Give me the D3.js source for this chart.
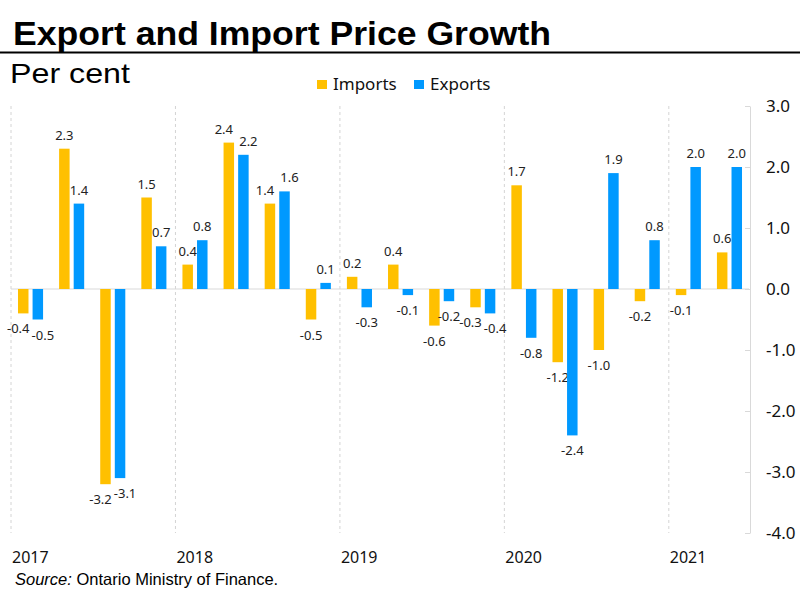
<!DOCTYPE html>
<html>
<head>
<meta charset="utf-8">
<script src="https://cdn.jsdelivr.net/npm/d3@7"></script>
<style>
  body { margin: 0; background: #fff; }
  svg { display: block; }
</style>
</head>
<body>
<div id="chart"></div>
<script>
// quarterly data, 2017Q1 .. 2021Q2
const quarters = ["2017Q1","2017Q2","2017Q3","2017Q4","2018Q1","2018Q2","2018Q3","2018Q4",
  "2019Q1","2019Q2","2019Q3","2019Q4","2020Q1","2020Q2","2020Q3","2020Q4","2021Q1","2021Q2"];
const imports = [-0.4, 2.3, -3.2, 1.5, 0.4, 2.4, 1.4, -0.5, 0.2, 0.4, -0.6, -0.3, 1.7, -1.2, -1.0, -0.2, -0.1, 0.6];
const exports = [-0.5, 1.4, -3.1, 0.7, 0.8, 2.2, 1.6, 0.1, -0.3, -0.1, -0.2, -0.4, -0.8, -2.4, 1.9, 0.8, 2.0, 2.0];
const years = ["2017", "2018", "2019", "2020", "2021"];
const yTicks = [3, 2, 1, 0, -1, -2, -3, -4];

const seriesNames = ["Imports", "Exports"];
const colors = { Imports: "#FFC000", Exports: "#0099FF" };

const width = 800, height = 600;
const plot = { left: 11, right: 749, top: 106, bottom: 533 };
const fmt = d => d.toFixed(1);   // plain hyphen for negatives

const svg = d3.select("#chart").append("svg")
  .attr("width", width)
  .attr("height", height);

// title block
svg.append("text")
  .attr("x", 13).attr("y", 45)
  .attr("textLength", 538)
  .attr("lengthAdjust", "spacingAndGlyphs")
  .style("font-family", "Liberation Sans, Arial, sans-serif")
  .style("font-weight", "bold")
  .style("font-size", "34px")
  .text("Export and Import Price Growth");

svg.append("line")
  .attr("x1", 0).attr("x2", width)
  .attr("y1", 52.5).attr("y2", 52.5)
  .attr("stroke", "#000").attr("stroke-width", 2);

svg.append("text")
  .attr("x", 10).attr("y", 83)
  .attr("textLength", 120)
  .attr("lengthAdjust", "spacingAndGlyphs")
  .style("font-family", "Liberation Sans, Arial, sans-serif")
  .style("font-size", "28px")
  .text("Per cent");

// scales
let x = d3.scaleBand()
  .domain(quarters)
  .range([plot.left, plot.right])
  .paddingInner(0.39)
  .paddingOuter(0.17);

let xs = d3.scaleBand()
  .domain(seriesNames)
  .range([0, x.bandwidth()])
  .paddingInner(0.28);

let y = d3.scaleLinear()
  .domain([-4, 3])
  .range([plot.bottom, plot.top]);

// year gridlines (dashed)
const yearPos = years.map((yr, i) => plot.left + i * 4 * x.step());
svg.selectAll(".ygrid")
  .data(yearPos)
  .enter().append("line")
  .attr("x1", d => d).attr("x2", d => d)
  .attr("y1", plot.top).attr("y2", plot.bottom)
  .attr("stroke", "#d4d4d4")
  .attr("stroke-dasharray", "3,3");

// zero line
svg.append("line")
  .attr("x1", plot.left).attr("x2", plot.right)
  .attr("y1", y(0)).attr("y2", y(0))
  .attr("stroke", "#d9d9d9").attr("stroke-width", 1);

// right y axis
let yAxis = d3.axisRight(y)
  .tickValues(yTicks)
  .tickSize(0)
  .tickPadding(16)
  .tickFormat(fmt);

let gy = svg.append("g")
  .attr("transform", `translate(${plot.right + 1},0)`)
  .call(yAxis);
gy.select(".domain").attr("stroke", "#d9d9d9");
gy.selectAll(".tick text")
  .style("font-family", "Noto Sans, Open Sans, sans-serif")
  .style("font-size", "17px")
  .attr("fill", "#111");
gy.selectAll(".tick").append("line")
  .attr("x1", -5).attr("x2", 0)
  .attr("stroke", "#d9d9d9");

// year labels
svg.selectAll(".year")
  .data(years)
  .enter().append("text")
  .attr("x", (d, i) => yearPos[i] + 1)
  .attr("y", 563)
  .style("font-family", "Noto Sans, Open Sans, sans-serif")
  .style("font-size", "16px")
  .attr("fill", "#111")
  .text(d => d);

// bars
const rows = quarters.map((q, i) => ({ q: q, Imports: imports[i], Exports: exports[i] }));
const groups = svg.selectAll(".q")
  .data(rows)
  .enter().append("g")
  .attr("transform", d => `translate(${x(d.q)},0)`);

const labelY = v => v >= 0 ? y(v) - 9 : y(v) + 20;

const cells = groups.selectAll("g")
  .data(d => {
    // push the two labels apart when they would sit on top of each other
    const clash = Math.sign(d.Imports) === Math.sign(d.Exports) &&
      Math.abs(labelY(d.Imports) - labelY(d.Exports)) < 14;
    return seriesNames.map((k, i) => ({
      key: k, value: d[k], nudge: clash ? (i === 0 ? -5 : 5) : 0
    }));
  })
  .enter().append("g");

cells.append("rect")
  .attr("x", d => xs(d.key))
  .attr("width", xs.bandwidth())
  .attr("y", d => y(Math.max(0, d.value)))
  .attr("height", d => Math.abs(y(d.value) - y(0)))
  .attr("fill", d => colors[d.key]);

cells.append("text")
  .attr("x", d => xs(d.key) + xs.bandwidth() / 2 + d.nudge)
  .attr("y", d => labelY(d.value))
  .attr("text-anchor", "middle")
  .style("font-family", "Noto Sans, Open Sans, sans-serif")
  .style("font-size", "13px")
  .attr("fill", "#222")
  .text(d => fmt(d.value));

// legend
const legend = svg.append("g");
const legendX = { Imports: 317, Exports: 414 };
seriesNames.forEach(k => {
  legend.append("rect")
    .attr("x", legendX[k]).attr("y", 80)
    .attr("width", 10).attr("height", 9)
    .attr("fill", colors[k]);
  legend.append("text")
    .attr("x", legendX[k] + 16).attr("y", 90)
    .style("font-family", "Noto Sans, Open Sans, sans-serif")
    .style("font-size", "17px")
    .attr("fill", "#111")
    .text(k);
});

// source note
const src = svg.append("text")
  .attr("x", 15).attr("y", 585)
  .style("font-family", "Liberation Sans, Arial, sans-serif")
  .style("font-size", "16.5px");
src.append("tspan").style("font-style", "italic").text("Source:");
src.append("tspan").text(" Ontario Ministry of Finance.");
</script>
</body>
</html>
